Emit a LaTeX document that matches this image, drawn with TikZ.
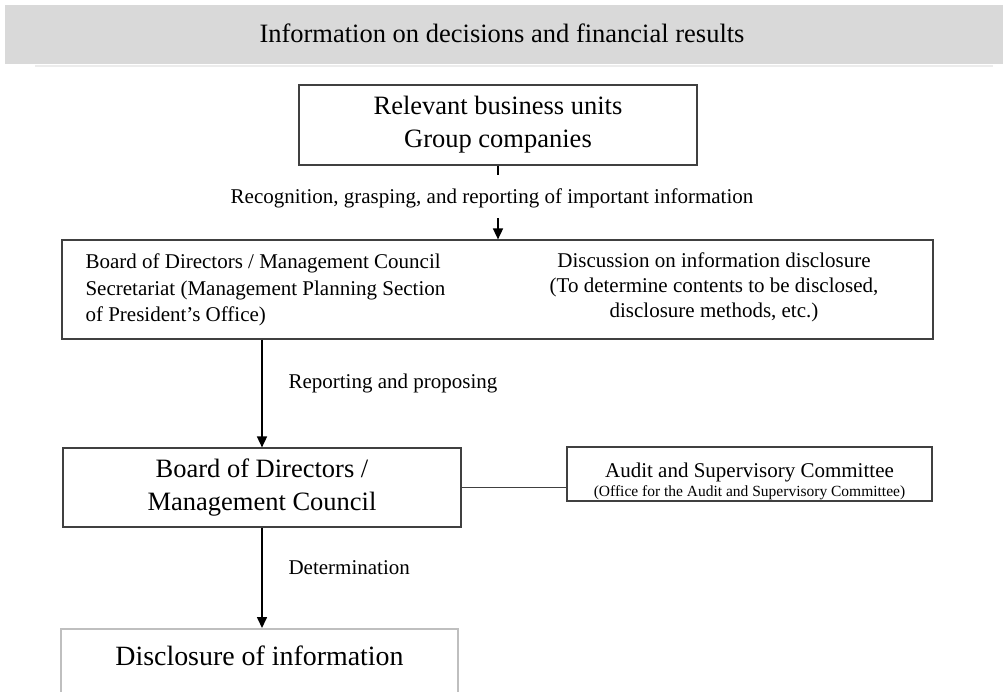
\documentclass[tikz,border=0pt]{standalone}
\usepackage{fontspec}
\setmainfont{Liberation Serif}
\usetikzlibrary{arrows.meta}

\begin{document}
\begin{tikzpicture}[x=1pt,y=-1pt,
		box/.style={draw=black!75,line width=1.2pt,inner sep=0pt},
		flow/.style={line width=1.6pt,-{Triangle[length=11pt,width=10pt]}},
		big/.style={font=\fontsize{26.5}{33}\selectfont},
		mid/.style={font=\fontsize{21}{26.5}\selectfont},
		small/.style={font=\fontsize{15.5}{18}\selectfont}]
		\useasboundingbox (0,0) rectangle (1003,691);
		\fill[gray!30] (5,5) rectangle (1003,64);
		\draw[gray!15,line width=2pt] (35,65.5)--(993,65.5);
		\node[big] (title) at (502,33) {Information on decisions and financial results};
		\node[box,big,align=center,minimum width=398pt,minimum height=80pt] (units) at (498,125) {Relevant business units\\Group companies};
		\node[mid] (recog) at (492,198) {Recognition, grasping, and reporting of important information};
		\node[box,minimum width=871pt,minimum height=99pt] (secr) at (497.5,289.5) {};
		\node[mid,align=left,anchor=west] (sectext) at (82,290) {Board of Directors / Management Council\\Secretariat (Management Planning Section\\of President’s Office)};
		\node[mid,align=center,font=\fontsize{21}{25}\selectfont] (discuss) at (714,287) {Discussion on information disclosure\\(To determine contents to be disclosed,\\disclosure methods, etc.)};
		\node[box,big,align=center,minimum width=398pt,minimum height=79pt] (board) at (262,487.5) {Board of Directors /\\Management Council};
		\node[box,minimum width=365pt,minimum height=54pt] (audit) at (749.5,474) {};
		\node[mid] (auditname) at (749.5,472) {Audit and Supervisory Committee};
		\node[small] (auditoffice) at (749.5,493) {(Office for the Audit and Supervisory Committee)};
		\node[box,draw=black!25,line width=2pt,minimum width=397pt,minimum height=80pt] (disc) at (259.5,669) {};
		\node[font=\fontsize{27.9}{33}\selectfont] (disctext) at (259.5,656) {Disclosure of information};
		\node[mid,anchor=west] (report) at (285,383) {Reporting and proposing};
		\node[mid,anchor=west] (determ) at (285,568) {Determination};
		\coordinate (stub) at (498,175);
		\coordinate (tail) at (498,218);
		\draw[line width=1.6pt] (units.south)--(stub);
		\draw[flow] (tail)--(secr.north -| tail);
		\draw[flow] (secr.south -| board.north)--(board.north);
		\draw[black!75,line width=1.2pt] (board.east)--(board.east -| audit.west);
		\draw[flow] (board.south)--(board.south |- disc.north);
	\end{tikzpicture}
\end{document}
